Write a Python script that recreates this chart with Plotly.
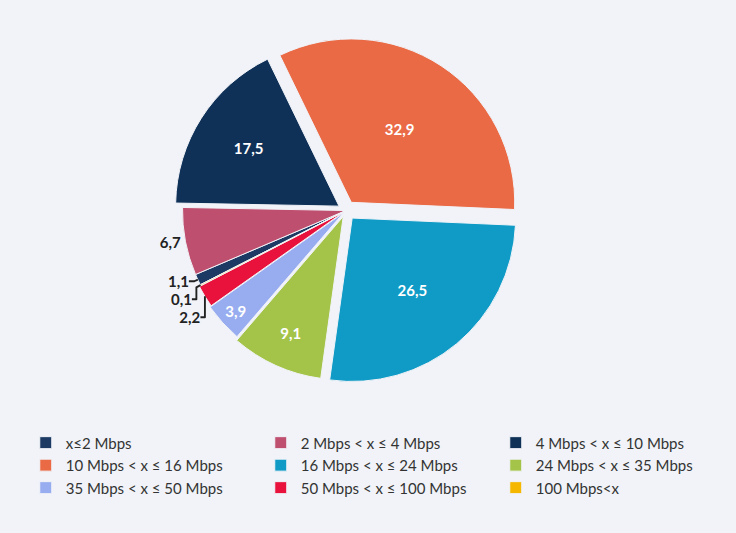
import plotly.graph_objects as go

categories = ["x≤2 Mbps", "2 Mbps < x ≤ 4 Mbps", "4 Mbps < x ≤ 10 Mbps",
              "10 Mbps < x ≤ 16 Mbps", "16 Mbps < x ≤ 24 Mbps", "24 Mbps < x ≤ 35 Mbps",
              "35 Mbps < x ≤ 50 Mbps", "50 Mbps < x ≤ 100 Mbps", "100 Mbps<x"]
values = [1.1, 6.7, 17.5, 32.9, 26.5, 9.1, 3.9, 2.2, 0.1]
colors = ["#1c3a63", "#bf4f6f", "#0f3158", "#ea6a45", "#0f9bc6",
          "#a4c449", "#98adf0", "#e8123d", "#f5b700"]
positions = ["outside", "outside", "inside", "inside", "inside",
             "inside", "inside", "outside", "outside"]
pulls = [0.0, 0.0, 0.05, 0.06, 0.06, 0.04, 0.02, 0.01, 0.0]

BG = "#f1f3f8"

fig = go.Figure(go.Pie(
    labels=categories,
    values=values,
    sort=False,
    direction="clockwise",
    rotation=243,
    pull=pulls,
    marker=dict(colors=colors, line=dict(color=BG, width=1)),
    texttemplate="%{value:.1f}",
    textposition=positions,
    insidetextorientation="horizontal",
    insidetextfont=dict(color="white", size=15, family="Lato", weight="bold"),
    outsidetextfont=dict(color="#222222", size=15, family="Lato", weight="bold"),
    hoverinfo="label+value",
    domain=dict(x=[0.15, 0.79], y=[0.28, 0.93]),
))

fig.update_layout(
    width=736, height=533,
    separators=",.",
    paper_bgcolor=BG,
    plot_bgcolor=BG,
    margin=dict(l=0, r=0, t=0, b=0),
    font=dict(family="Lato", size=15, color="#333333"),
    showlegend=True,
    legend=dict(
        orientation="h",
        x=0.035, xanchor="left",
        y=0.20, yanchor="top",
        entrywidth=190,
        traceorder="normal",
        font=dict(family="Lato", size=15, color="#333333"),
        bgcolor="rgba(0,0,0,0)",
        itemwidth=30,
    ),
)

fig.write_html(
    "out.html",
    config={"displayModeBar": False},
    post_script="document.body.style.margin='0';document.body.style.background='" + BG + "';",
)
